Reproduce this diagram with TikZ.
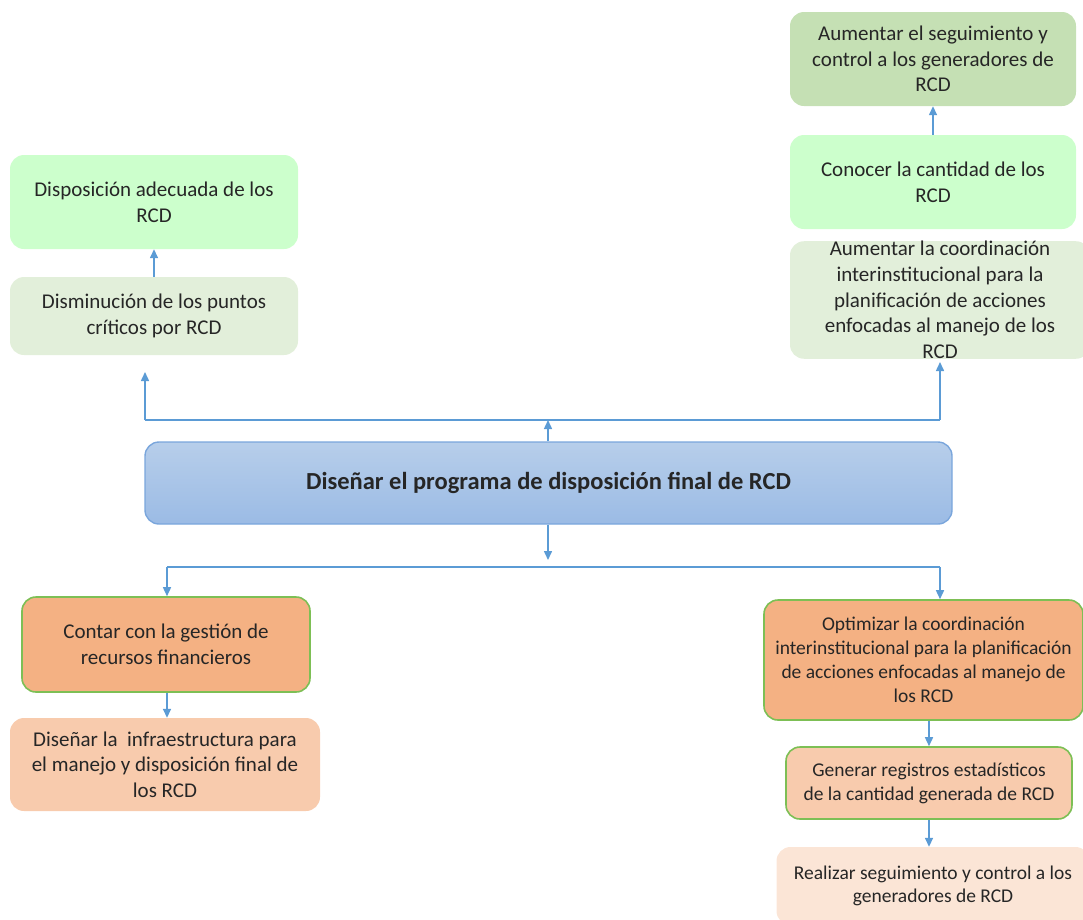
\documentclass[tikz,border=0pt]{standalone}
\usepackage{fontspec}
\setmainfont{Carlito}
\usetikzlibrary{arrows.meta}
\definecolor{verdeosc}{HTML}{C5E0B4}
\definecolor{verdeclaro}{HTML}{CCFFCC}
\definecolor{verdepalido}{HTML}{E2EFDA}
\definecolor{naranja}{HTML}{F4B183}
\definecolor{durazno}{HTML}{F8CBAD}
\definecolor{duraznopalido}{HTML}{FBE5D6}
\definecolor{bordeverde}{HTML}{7DBF55}
\definecolor{azulsup}{HTML}{B7CEEA}
\definecolor{azulinf}{HTML}{9BBBE5}
\definecolor{bordeazul}{HTML}{7AA6DC}
\definecolor{flechazul}{HTML}{5B9BD5}
\begin{document}
\begin{tikzpicture}[x=1pt,y=-1pt,->,>={Triangle[length=9pt,width=8pt]},
    box/.style={rounded corners=14pt,align=center,inner sep=0pt,text=black!85,
      font=\fontsize{21}{25.7}\selectfont},
    chica/.style={font=\fontsize{19.5}{24}\selectfont},
    edged/.style={draw=bordeverde,line width=1.6pt},
    flecha/.style={draw=flechazul,line width=1.5pt}]
\useasboundingbox (0,0) rectangle (1083,919);
\clip (0,0) rectangle (1083,919);
% arriba a la derecha
\node [box,fill=verdeosc,minimum width=286pt,minimum height=94pt] (seguim) at (933,59) {Aumentar el seguimiento y\\control a los generadores de\\RCD};
\node [box,fill=verdeclaro,minimum width=286pt,minimum height=94pt] (conocer) at (933,182) {Conocer la cantidad de los\\RCD};
\node [box,fill=verdepalido,minimum width=300pt,minimum height=112pt] (aumcoord) at (940,300) {Aumentar la coordinación\\interinstitucional para la\\planificación de acciones\\enfocadas al manejo de los\\RCD};
% arriba a la izquierda
\node [box,fill=verdeclaro,minimum width=288pt,minimum height=94pt] (dispos) at (154,202) {Disposición adecuada de los\\RCD};
\node [box,fill=verdepalido,minimum width=288pt,minimum height=78pt] (disminu) at (154,316) {Disminución de los puntos\\críticos por RCD};
% centro
\node [box,top color=azulsup,bottom color=azulinf,draw=bordeazul,line width=1.4pt,
  minimum width=807pt,minimum height=82pt,font=\fontsize{24.5}{29}\selectfont\bfseries] (central) at (548.5,483) {Diseñar el programa de disposición final de RCD};
% abajo a la izquierda
\node [box,edged,fill=naranja,minimum width=288pt,minimum height=95pt] (contar) at (166,644.5) {Contar con la gestión de\\recursos financieros};
\node [box,fill=durazno,minimum width=310pt,minimum height=93pt] (infra) at (165,764.5) {Diseñar la~ infraestructura para\\el manejo y disposición final de\\los RCD};
% abajo a la derecha
\node [box,chica,edged,fill=naranja,minimum width=319pt,minimum height=120pt] (optim) at (923.5,660) {Optimizar la coordinación\\interinstitucional para la planificación\\de acciones enfocadas al manejo de\\los RCD};
\node [box,chica,edged,fill=durazno,minimum width=286pt,minimum height=72pt] (registros) at (929,783) {Generar registros estadísticos\\de la cantidad generada de RCD};
\node [box,chica,fill=duraznopalido,minimum width=313pt,minimum height=78pt,font=\fontsize{19.5}{23}\selectfont] (realizar) at (933,886) {Realizar seguimiento y control a los\\generadores de RCD};
% conectores
\coordinate (arrC) at (548,420);
\coordinate (arrI) at (145,420);
\coordinate (arrD) at (940,420);
\coordinate (finI) at (145,372);
\coordinate (finD) at (940,362);
\coordinate (abaC) at (548,560);
\coordinate (abaI) at (167,567);
\coordinate (abaD) at (940,567);
\draw [flecha] (central.north -| arrC) -- (arrC);
\draw [flecha,-] (arrI) -- (arrD);
\draw [flecha] (arrI) -- (finI);
\draw [flecha] (arrD) -- (finD);
\draw [flecha] (disminu.north) -- (dispos.south);
\draw [flecha] (conocer.north) -- (seguim.south);
\draw [flecha] (central.south -| abaC) -- (abaC);
\draw [flecha,-] (abaI) -- (abaD);
\draw [flecha] (abaI) -- (abaI |- contar.north);
\draw [flecha] (abaD) -- (abaD |- optim.north);
\draw [flecha] (contar.south -| abaI) -- (infra.north -| abaI);
\draw [flecha] (registros.north |- optim.south) -- (registros.north);
\draw [flecha] (registros.south) -- (realizar.north -| registros.south);
\end{tikzpicture}
\end{document}
